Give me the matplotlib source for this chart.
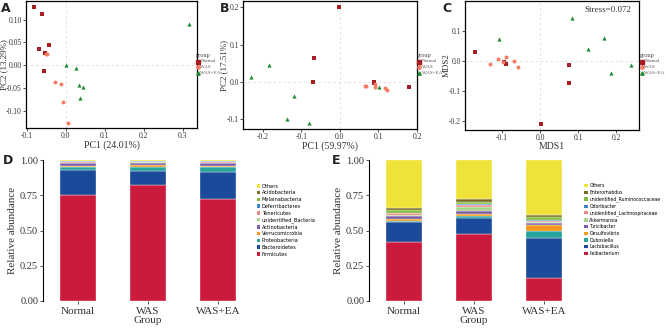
import numpy as np
import matplotlib.pyplot as plt
from matplotlib.lines import Line2D
from matplotlib.patches import Patch

plt.rcParams['font.family'] = ['Liberation Serif', 'DejaVu Serif']

# ---- ordination data ----
groups = ['Normal', 'WAS', 'WAS+EA']

pca_normal_x = [-0.081, -0.060, -0.069, -0.044, -0.054, -0.057]
pca_normal_y = [0.128, 0.112, 0.036, 0.045, 0.026, -0.012]
pca_was_x = [-0.047, -0.051, -0.028, -0.012, -0.008, 0.005]
pca_was_y = [0.025, 0.025, -0.036, -0.042, -0.080, -0.128]
pca_ea_x = [0.001, 0.026, 0.033, 0.043, 0.037, 0.315]
pca_ea_y = [0.001, -0.007, -0.044, -0.049, -0.071, 0.091]

pcoa_normal_x = [-0.002, -0.067, -0.069, 0.089, 0.089, 0.178]
pcoa_normal_y = [0.202, 0.065, 0.0, -0.002, -0.004, -0.014]
pcoa_was_x = [0.064, 0.068, 0.090, 0.117, 0.123, 0.090]
pcoa_was_y = [-0.012, -0.011, -0.013, -0.018, -0.022, -0.006]
pcoa_ea_x = [-0.230, -0.183, -0.119, -0.138, -0.080, 0.102]
pcoa_ea_y = [0.012, 0.045, -0.039, -0.099, -0.112, -0.015]

nmds_normal_x = [-0.171, -0.093, -0.089, 0.075, 0.077, 0.003]
nmds_normal_y = [0.031, -0.004, -0.011, -0.014, -0.074, -0.209]
nmds_was_x = [-0.131, -0.109, -0.090, -0.067, -0.058, -0.096]
nmds_was_y = [-0.008, 0.007, 0.014, 0.001, -0.018, -0.004]
nmds_ea_x = [-0.108, 0.084, 0.126, 0.167, 0.186, 0.237]
nmds_ea_y = [0.073, 0.143, 0.040, 0.076, -0.038, -0.012]

# ---- relative abundance data (bottom -> top) ----
phylum = ['Firmicutes', 'Bacteroidetes', 'Proteobacteria', 'Verrucomicrobia',
          'Actinobacteria', 'unidentified_Bacteria', 'Tenericutes',
          'Deferribacteres', 'Melainabacteria', 'Acidobacteria', 'Others']
phylum_normal = [0.755, 0.175, 0.022, 0.004, 0.022, 0.004, 0.006, 0.002, 0.002, 0.002, 0.006]
phylum_was = [0.820, 0.100, 0.030, 0.015, 0.015, 0.003, 0.006, 0.002, 0.002, 0.002, 0.005]
phylum_ea = [0.725, 0.190, 0.037, 0.004, 0.020, 0.004, 0.008, 0.003, 0.003, 0.002, 0.004]

genus = ['Ileibacterium', 'Lactobacillus', 'Dubosiella', 'Desulfovibrio',
         'Turicibacter', 'Akkermansia', 'unidentified_Lachnospiraceae',
         'Odoribacter', 'unidentified_Ruminococcaceae', 'Enterorhabdus', 'Others']
genus_normal = [0.420, 0.140, 0.005, 0.020, 0.020, 0.008, 0.010, 0.004, 0.020, 0.012, 0.341]
genus_was = [0.475, 0.115, 0.010, 0.020, 0.020, 0.025, 0.015, 0.005, 0.020, 0.015, 0.280]
genus_ea = [0.160, 0.290, 0.050, 0.040, 0.010, 0.008, 0.012, 0.005, 0.020, 0.015, 0.390]

stack_colors = ['#CB1A3C', '#1C4A9A', '#27A59C', '#F39A1E', '#7C5DA8', '#A9D48D',
                '#EE8585', '#3B86C8', '#7FBF3B', '#7A6A25', '#EFE33A']

grp_colors = ['#A51E22', '#F47A62', '#1F8A30']
grp_markers = ['s', 'o', '^']

W, H = 666, 328
fig = plt.figure(figsize=(W / 100, H / 100), dpi=100)


def px_axes(x0, y0, x1, y1):
    return fig.add_axes([x0 / W, 1 - y1 / H, (x1 - x0) / W, (y1 - y0) / H])


def scatter_panel(ax, xs, ys, xlim, ylim, xticks, yticks, xlabel, ylabel, yfmt, ylab_x):
    ax.axhline(0, color='#dddddd', lw=0.6, ls=(0, (3, 3)), zorder=0)
    ax.axvline(0, color='#dddddd', lw=0.6, ls=(0, (3, 3)), zorder=0)
    for (x, y), c, m in zip(zip(xs, ys), grp_colors, grp_markers):
        ax.scatter(x, y, s=9 if m != 'o' else 8, c=c, marker=m, linewidths=0, zorder=3)
    ax.set_xlim(xlim)
    ax.set_ylim(ylim)
    ax.set_xticks(xticks)
    ax.set_xticklabels(['%.1f' % t for t in xticks])
    ax.set_yticks(yticks)
    ax.set_yticklabels([yfmt % t for t in yticks])
    ax.tick_params(labelsize=5.5, length=2, width=0.6, pad=1, colors='#333333')
    for s in ax.spines.values():
        s.set_linewidth(0.9)
    ax.set_xlabel(xlabel, fontsize=7, labelpad=0, color='#333333')
    ax.set_ylabel(ylabel, fontsize=6.5, color='#333333')
    # ylabel anchor = right edge of the rotated text, at a fixed pixel x
    bb = ax.get_position()
    ax.yaxis.set_label_coords((ylab_x / W - bb.x0) / bb.width, 0.5)


def group_legend(x, y):
    fig.text(x / W, 1 - y / H, 'group', fontsize=4.5, color='#444444', va='center')
    for i, g in enumerate(groups):
        yy = y + 6.5 + i * 5.5
        fig.lines.append(Line2D([(x + 2) / W], [1 - yy / H], marker=grp_markers[i],
                                color=grp_colors[i], ms=2.4, lw=0,
                                transform=fig.transFigure))
        fig.text((x + 4.5) / W, 1 - yy / H, g, fontsize=3.6, color='#555555', va='center')


# A: PCA
axA = px_axes(26, 1, 197, 128)
scatter_panel(axA, [pca_normal_x, pca_was_x, pca_ea_x], [pca_normal_y, pca_was_y, pca_ea_y],
              (-0.102, 0.336), (-0.138, 0.141), [-0.1, 0.0, 0.1, 0.2, 0.3],
              [-0.10, -0.05, 0.0, 0.05, 0.10], 'PC1 (24.01%)', 'PC2 (13.29%)', '%.2f', 8.5)
group_legend(196, 55)

# B: PCoA
axB = px_axes(243, 1, 417, 129)
scatter_panel(axB, [pcoa_normal_x, pcoa_was_x, pcoa_ea_x], [pcoa_normal_y, pcoa_was_y, pcoa_ea_y],
              (-0.251, 0.20), (-0.127, 0.217), [-0.2, -0.1, 0.0, 0.1, 0.2],
              [-0.1, 0.0, 0.1, 0.2], 'PC1 (59.97%)', 'PC2 (17.51%)', '%.1f', 228)
group_legend(417, 55)

# C: NMDS
axC = px_axes(465, 1, 639, 130)
scatter_panel(axC, [nmds_normal_x, nmds_was_x, nmds_ea_x], [nmds_normal_y, nmds_was_y, nmds_ea_y],
              (-0.196, 0.259), (-0.229, 0.200), [-0.1, 0.0, 0.1, 0.2],
              [-0.2, -0.1, 0.0, 0.1], 'MDS1', 'MDS2', '%.1f', 451)
axC.text(0.82, 0.96, 'Stress=0.072', transform=axC.transAxes, fontsize=6.5,
         color='#333333', ha='center', va='top')
group_legend(640, 55)


def bar_panel(ax, names, values):
    pos = np.arange(len(groups))
    bottom = np.zeros(len(groups))
    for i, name in enumerate(names):
        v = np.array([values[0][i], values[1][i], values[2][i]])
        ax.bar(pos, v, bottom=bottom, width=0.51, color=stack_colors[i],
               edgecolor='white', linewidth=0.25, label=name)
        bottom += v
    ax.set_xlim(-0.5, 2.5)
    ax.set_ylim(0, 1)
    ax.set_yticks([0, 0.25, 0.5, 0.75, 1.0])
    ax.set_yticklabels(['0.00', '0.25', '0.50', '0.75', '1.00'])
    ax.set_xticks(pos)
    ax.set_xticklabels(groups)
    ax.tick_params(axis='y', labelsize=7.5, length=2, width=0.6, pad=1.5, colors='#333333')
    ax.tick_params(axis='x', labelsize=8, length=2, width=0.6, pad=2, colors='#333333')
    ax.spines['top'].set_visible(False)
    ax.spines['right'].set_visible(False)
    ax.spines['bottom'].set_visible(False)
    ax.spines['left'].set_linewidth(0.8)
    ax.set_xlabel('Group', fontsize=8, labelpad=0, color='#333333')
    ax.set_ylabel('Relative abundance', fontsize=8, labelpad=2, color='#333333')


def stack_legend(x, y, names, size):
    handles = [Patch(facecolor=stack_colors[i], label=names[i]) for i in range(len(names))][::-1]
    fig.legend(handles=handles, loc='upper left', bbox_to_anchor=(x / W, 1 - y / H),
               frameon=False, handlelength=0.7, handleheight=0.7,
               handletextpad=0.4, labelspacing=0.35, borderpad=0,
               prop={'family': 'DejaVu Sans', 'size': size})


axD = px_axes(43, 160, 253, 301)
bar_panel(axD, phylum, [phylum_normal, phylum_was, phylum_ea])
stack_legend(254, 181, phylum, 3.6)

axE = px_axes(369, 160, 579, 301)
bar_panel(axE, genus, [genus_normal, genus_was, genus_ea])
stack_legend(582, 181, genus, 3.3)

# panel letters
for lab, x, y in [('A', 1, 8), ('B', 220, 8), ('C', 442, 8), ('D', 3, 161), ('E', 332, 161)]:
    fig.text(x / W, 1 - y / H, lab, fontsize=9, fontweight='bold', family='DejaVu Sans',
             va='center', color='#222222')

fig.savefig('out.png', dpi=100)
